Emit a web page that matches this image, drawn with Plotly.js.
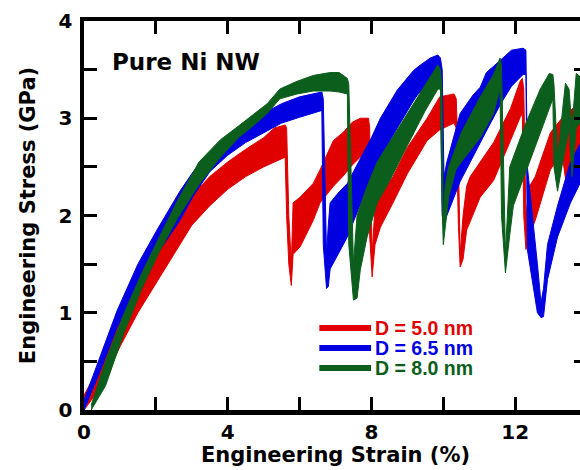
<!DOCTYPE html>
<html><head><meta charset="utf-8">
<script src="https://cdn.plot.ly/plotly-3.0.1.min.js"></script>
<style>html,body{margin:0;padding:0;overflow:hidden;background:#fff;width:580px;height:470px}#chart{width:600px;height:470px}</style>
</head><body><div id="chart"></div>
<script>
// Engineering strain (%) and the upper/lower envelope of the fluctuating stress (GPa)
const redStrain = [0,0.5,1.0,1.5,2.0,2.5,3.0,3.5,4.0,4.5,5.0,5.3,5.6,5.64,5.7,5.77,5.82,6.02,6.38,6.57,6.94,7.2,7.47,7.69,7.92,7.95,8.02,8.1,8.25,8.6,9.0,9.55,9.9,10.3,10.36,10.42,10.47,10.55,10.65,10.75,11.03,11.4,11.87,12.14,12.2,12.24,12.3,12.4,12.56,12.98,13.3,13.45,13.6,13.9];
const redUpper  = [0.15,0.5,0.95,1.3,1.65,1.95,2.2,2.4,2.55,2.68,2.8,2.9,2.93,2.9,2.0,1.5,2.13,2.19,2.33,2.47,2.77,2.85,2.96,3.0,3.0,2.9,1.6,2.1,2.2,2.4,2.7,3.0,3.22,3.25,3.2,2.6,1.6,2.0,2.3,2.4,2.55,2.75,3.1,3.38,3.41,3.3,2.0,2.3,2.4,2.85,3.0,3.05,3.1,3.05];
const redLower  = [0,0.25,0.65,1.0,1.3,1.6,1.9,2.1,2.27,2.4,2.5,2.55,2.6,2.0,1.5,1.28,1.6,1.68,1.95,2.13,2.3,2.4,2.52,2.6,2.65,1.8,1.37,1.7,1.88,2.13,2.43,2.77,2.88,2.95,2.9,1.9,1.47,1.55,1.85,1.95,2.19,2.36,2.77,3.01,3.05,2.0,1.65,1.8,1.95,2.47,2.65,2.25,2.4,2.6];

const blueStrain = [0,0.45,0.92,1.5,2.03,2.67,3.04,3.5,4.0,4.5,5.0,5.5,6.0,6.62,6.66,6.75,6.8,6.85,7.07,7.33,7.5,8.0,8.25,8.72,9.17,9.3,9.64,9.85,9.92,9.97,10.02,10.1,10.47,10.83,11.03,11.2,11.6,11.9,12.22,12.3,12.34,12.5,12.62,12.72,12.79,12.9,13.18,13.54,13.9];
const blueUpper  = [0.1,0.55,1.02,1.5,1.85,2.25,2.45,2.65,2.8,2.95,3.05,3.15,3.22,3.27,3.2,1.6,1.9,2.13,2.23,2.33,2.45,2.8,3.0,3.29,3.49,3.53,3.62,3.65,3.62,3.5,2.4,2.55,3.05,3.24,3.32,3.47,3.6,3.7,3.72,3.7,2.5,1.95,1.5,1.1,1.25,1.7,2.1,2.55,2.8];
const blueLower  = [0,0.4,0.85,1.25,1.6,1.95,2.2,2.45,2.62,2.75,2.85,2.95,3.01,3.08,1.7,1.25,1.27,1.45,1.6,1.78,1.95,2.4,2.6,2.9,3.18,3.25,3.35,3.4,3.4,2.0,1.9,2.0,2.35,2.6,2.75,2.87,3.15,3.33,3.45,3.45,1.65,1.3,1.0,0.95,0.96,1.34,1.78,2.13,2.4];

const greenStrain = [0.2,0.6,1.1,1.6,2.1,2.6,3.2,3.8,4.3,4.8,5.1,5.45,5.93,6.38,6.85,7.1,7.33,7.37,7.5,7.6,7.69,7.88,8.16,8.5,9.0,9.5,9.85,9.92,9.96,10.0,10.05,10.15,10.35,10.5,11.03,11.4,11.58,11.62,11.73,11.85,11.95,12.3,12.7,12.95,13.05,13.08,13.18,13.4,13.5,13.58,13.7,13.9];
const greenUpper  = [0.05,0.5,0.98,1.4,1.78,2.15,2.55,2.78,2.92,3.06,3.15,3.3,3.38,3.44,3.47,3.47,3.41,3.35,1.5,2.0,2.1,2.3,2.55,2.75,3.05,3.35,3.55,3.5,3.3,1.9,2.3,2.5,2.7,2.85,3.22,3.45,3.62,3.55,1.6,2.5,2.6,2.95,3.3,3.46,3.45,3.35,2.6,3.36,3.3,2.9,3.46,3.4];
const greenLower  = [0,0.25,0.78,1.24,1.63,1.97,2.32,2.6,2.8,2.95,3.05,3.2,3.25,3.28,3.28,3.27,3.25,1.7,1.13,1.15,1.44,1.78,2.13,2.35,2.72,3.08,3.3,3.3,2.2,1.7,1.9,2.19,2.47,2.55,2.8,3.05,3.3,2.0,1.41,1.8,2.1,2.45,2.85,3.1,3.2,2.5,2.25,2.7,2.9,2.4,2.9,3.0];

const seriesNames = ['D = 5.0 nm','D = 6.5 nm','D = 8.0 nm'];
const seriesColors = ['#e00000','#0000e0','#0b5e1b'];
const xTickVals = [0,2,4,6,8,10,12,14];
const xTickText = ['0','','4','','8','','12',''];
const yTickVals = [0,0.5,1,1.5,2,2.5,3,3.5,4];
const yTickText = ['0','','1','','2','','3','','4'];

function band(x, up, lo, color, name){
  return {type:'scatter', mode:'lines', name:name, showlegend:false, hoverinfo:'skip',
    x: x.concat(x.slice().reverse()), y: up.concat(lo.slice().reverse()),
    fill:'toself', fillcolor: color, line:{color: color, width:1}};
}
const traces = [
  band(redStrain, redUpper, redLower, seriesColors[0], seriesNames[0]),
  band(blueStrain, blueUpper, blueLower, seriesColors[1], seriesNames[1]),
  band(greenStrain, greenUpper, greenLower, seriesColors[2], seriesNames[2])
];

const FONT = 'DejaVu Sans, sans-serif';
const LFONT = 'Liberation Sans, Arial, sans-serif';
const legY = [0.843, 0.637, 0.432];
const shapes = [], annotations = [];
for (let i=0;i<3;i++){
  shapes.push({type:'line', xref:'x', yref:'y', x0:6.55, x1:7.99, y0:legY[i], y1:legY[i], line:{color:seriesColors[i], width:6}});
  annotations.push({xref:'x', yref:'y', x:8.05, y:legY[i], xanchor:'left', yanchor:'middle', showarrow:false,
    text:seriesNames[i], font:{family:LFONT, size:19.5, weight:'bold', color:seriesColors[i]}});
}
annotations.push({xref:'x', yref:'y', x:0.72, y:3.58, xanchor:'left', yanchor:'middle', showarrow:false,
  text:'Pure Ni NW', font:{family:FONT, size:23, weight:'bold', color:'#000'}});

const axisCommon = {showgrid:false, zeroline:false, showline:true, linecolor:'#000', linewidth:4.5, mirror:'ticks',
  ticks:'inside', ticklen:13, tickwidth:3, tickcolor:'#000', tickmode:'array',
  tickfont:{family:FONT, size:20, weight:'bold', color:'#000'}};

const layout = {
  width:600, height:470, margin:{l:84, r:13, t:21, b:60},
  paper_bgcolor:'#fff', plot_bgcolor:'#fff', showlegend:false,
  xaxis: Object.assign({}, axisCommon, {range:[0,14], tickvals:xTickVals, ticktext:xTickText,
    title:{text:'Engineering Strain (%)', font:{family:FONT, size:21, weight:'bold', color:'#000'}, standoff:6}}),
  yaxis: Object.assign({}, axisCommon, {range:[0,4], tickvals:yTickVals, ticktext:yTickText, ticklabelstandoff:3,
    title:{text:'Engineering Stress (GPa)', font:{family:FONT, size:21, weight:'bold', color:'#000'}, standoff:18}}),
  shapes:shapes, annotations:annotations
};
Plotly.newPlot('chart', traces, layout, {displayModeBar:false, staticPlot:true});
</script></body></html>
